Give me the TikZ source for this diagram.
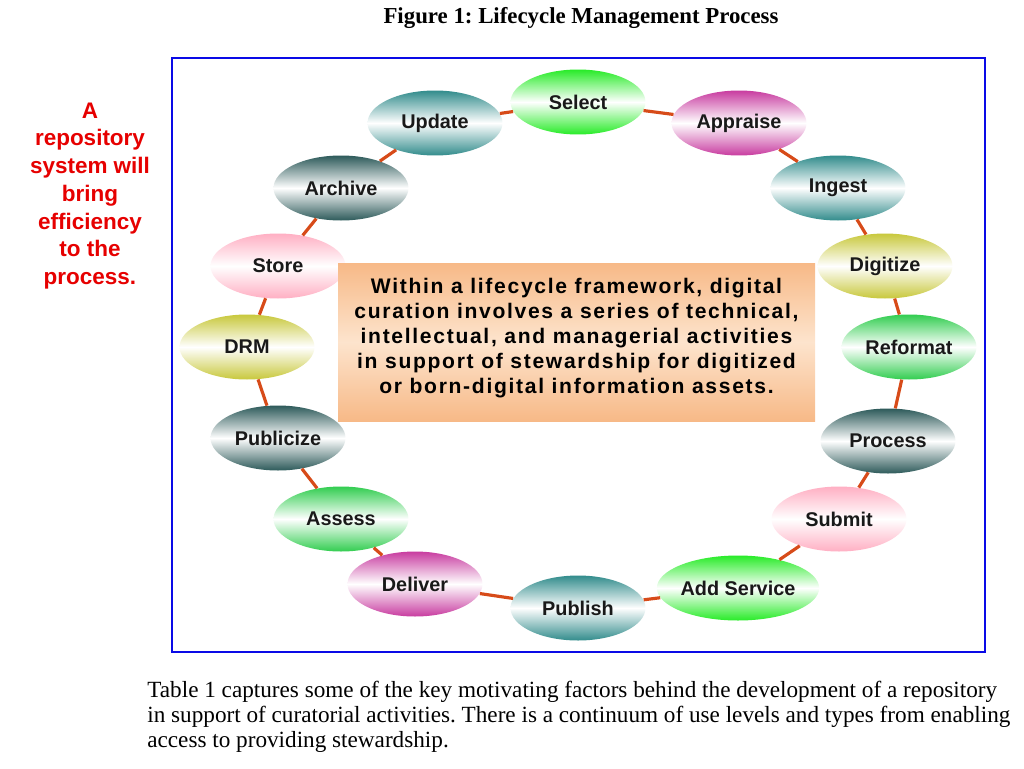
\documentclass[tikz,border=0pt]{standalone}
\usepackage{fontspec}
\setmainfont{Liberation Serif}
\newfontfamily\arialf{Liberation Sans}
\newfontfamily\arialsp[LetterSpace=8]{Liberation Sans}
\usetikzlibrary{shapes.geometric}
\definecolor{cgreen}{RGB}{40,235,40}
\definecolor{cgreenb}{RGB}{50,205,80}
\definecolor{cmag}{RGB}{200,60,160}
\definecolor{cteal}{RGB}{50,140,140}
\definecolor{cslate}{RGB}{45,90,90}
\definecolor{colive}{RGB}{200,200,60}
\definecolor{cpink}{RGB}{255,175,195}
\definecolor{conn}{RGB}{215,75,25}
\definecolor{frame}{RGB}{10,10,230}
\definecolor{peachA}{RGB}{247,185,135}
\definecolor{peachB}{RGB}{253,228,205}
\definecolor{redtxt}{RGB}{230,0,0}
\tikzset{
  stage/.style={ellipse, inner sep=0pt, minimum width=2.7cm, minimum height=1.3cm,
    top color=#1, bottom color=#1, middle color=white,
    font=\arialf\bfseries\fontsize{11.3}{13}\selectfont, text=black!90},
  link/.style={draw=conn, line width=1.8pt},
}
\begin{document}
\frenchspacing
\begin{tikzpicture}[x=0.02cm,y=-0.02cm]
\useasboundingbox (0,0) rectangle (1024,768);
\node[font=\bfseries\fontsize{13}{15}\selectfont] (title) at (581,18) {Figure 1: Lifecycle Management Process};
\draw[frame, line width=1.2pt] (172,58) rectangle (985,652);
\node[align=center, text=redtxt, font=\arialf\bfseries\fontsize{12.8}{15.8}\selectfont] (note) at (90,196)
  {A\\repository\\system will\\bring\\efficiency\\to the\\process.};
% stages
\node[stage=cgreen] (select) at (578,102) {Select};
\node[stage=cmag] (appraise) at (739,123) {Appraise};
\node[stage=cteal] (ingest) at (838,188) {Ingest};
\node[stage=colive] (digitize) at (885,266) {Digitize};
\node[stage=cgreenb] (reformat) at (909,347) {Reformat};
\node[stage=cslate] (process) at (888,441) {Process};
\node[stage=cpink] (submit) at (839,519) {Submit};
\node[stage=cgreen] (addservice) at (738,588) {Add Service};
\node[stage=cteal] (publish) at (578,608) {Publish};
\node[stage=cmag] (deliver) at (415,584) {Deliver};
\node[stage=cgreenb] (assess) at (341,519) {Assess};
\node[stage=cslate] (publicize) at (278,438) {Publicize};
\node[stage=colive] (drm) at (247,347) {DRM};
\node[stage=cpink] (store) at (278,266) {Store};
\node[stage=cslate] (archive) at (341,188) {Archive};
\node[stage=cteal] (update) at (435,123) {Update};
\foreach \a/\b in {select/appraise, appraise/ingest, ingest/digitize, digitize/reformat,
  reformat/process, process/submit, submit/addservice, addservice/publish, publish/deliver,
  deliver/assess, assess/publicize, publicize/drm, drm/store, store/archive, archive/update, update/select}
  \draw[link] (\a) -- (\b);
% centre box
\node[minimum width=477*0.02cm, minimum height=158*0.02cm, inner sep=0pt,
  top color=peachA, bottom color=peachA, middle color=peachB] (centre) at (576.5,342) {};
\node[align=center, inner sep=0pt,
  font=\arialsp\bfseries\fontsize{12}{14.2}\selectfont] (centretext) at (576.5,338)
  {Within a lifecycle framework, digital\\curation involves a series of technical,\\intellectual, and managerial activities\\in support of stewardship for digitized\\or born-digital information assets.};
\node[anchor=north west, inner sep=0pt, align=left, font=\fontsize{13.2}{14.2}\selectfont] (para) at (147,681)
  {Table 1 captures some of the key motivating factors behind the development of a repository\\in support of curatorial activities. There is a continuum of use levels and types from enabling\\access to providing stewardship.};
\end{tikzpicture}
\end{document}
